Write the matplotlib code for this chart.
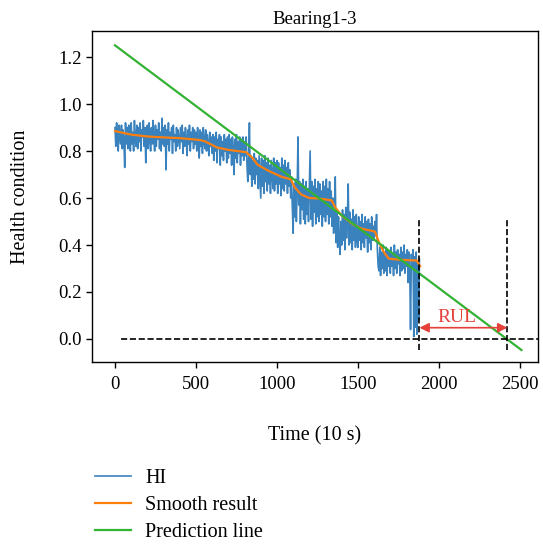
import matplotlib
matplotlib.use("Agg")
import matplotlib.pyplot as plt
import numpy as np

plt.rcParams['font.family'] = ['Liberation Serif', 'DejaVu Serif']

# ---- data ----
hi_step = 5
hi_values = [
    .90, .82, .92, .85, .80, .91, .86, .83, .91, .81, .89, .84, .73, .92, .83, .90, .81, .91, .86, .80,
    .92, .83, .88, .80, .93, .85, .82, .91, .81, .90, .84, .92, .80, .89, .86, .93, .82, .90, .75, .87,
    .91, .81, .92, .85, .80, .90, .83, .93, .84, .80, .91, .82, .89, .85, .92, .81, .88, .80, .94, .83,
    .90, .82, .91, .72, .89, .83, .92, .80, .88, .85, .90, .79, .91, .84, .87, .80, .90, .82, .89, .85,
    .81, .90, .84, .91, .79, .88, .82, .90, .85, .78, .89, .83, .91, .80, .88, .84, .90, .81, .89, .83,
    .88, .80, .90, .83, .77, .89, .82, .88, .79, .90, .84, .81, .89, .80, .87, .83, .78, .88, .82, .86,
    .79, .87, .76, .86, .80, .88, .75, .85, .81, .87, .74, .86, .78, .84, .76, .87, .80, .85, .75, .86,
    .77, .87, .79, .85, .74, .86, .81, .70, .85, .77, .87, .75, .84, .79, .86, .74, .85, .78, .86, .76,
    .84, .78, .86, .74, .67, .77, .92, .70, .78, .65, .76, .68, .79, .66, .77, .70, .76, .64, .78, .69,
    .60, .77, .65, .76, .62, .78, .67, .75, .63, .77, .66, .74, .62, .76, .70, .64, .77, .63, .75, .66,
    .76, .62, .75, .66, .73, .61, .77, .64, .74, .63, .76, .66, .73, .62, .75, .65, .72, .60, .69, .56,
    .45, .66, .52, .68, .50, .64, .86, .57, .67, .49, .66, .55, .68, .51, .65, .49, .67, .53, .64, .50,
    .66, .80, .51, .67, .48, .65, .54, .68, .49, .64, .52, .67, .50, .66, .53, .63, .48, .67, .52, .65,
    .50, .68, .53, .64, .49, .67, .52, .63, .48, .60, .45, .55, .69, .41, .54, .39, .52, .42, .36, .50,
    .40, .55, .42, .53, .38, .56, .43, .52, .66, .40, .54, .41, .51, .38, .55, .42, .52, .39, .53, .43,
    .39, .52, .42, .50, .38, .53, .41, .49, .39, .52, .43, .50, .37, .51, .41, .49, .38, .52, .42, .48,
    .42, .50, .44, .53, .38, .31, .29, .39, .27, .37, .30, .40, .28, .36, .29, .39, .27, .38, .31, .37,
    .28, .39, .31, .36, .27, .40, .30, .37, .28, .38, .32, .36, .27, .39, .29, .37, .30, .40, .28, .36,
    .31, .38, .24, .37, .29, .04, .36, .30, .38, .01, .35, .05, .37, .02, .33, .08, .34,
]
smooth_x = [0, 100, 200, 300, 400, 525, 560, 630, 700, 810, 850, 880, 950,
            1030, 1085, 1110, 1150, 1200, 1260, 1338, 1360, 1400, 1472, 1520,
            1606, 1630, 1660, 1690, 1760, 1863, 1884]
smooth_y = [0.885, 0.87, 0.862, 0.858, 0.855, 0.847, 0.84, 0.815, 0.805, 0.795,
            0.77, 0.742, 0.715, 0.69, 0.68, 0.645, 0.615, 0.60, 0.598, 0.59,
            0.56, 0.525, 0.487, 0.47, 0.457, 0.41, 0.37, 0.342, 0.337, 0.334,
            0.31]
pred_x = [0, 2510]
pred_y = [1.25, -0.047]
fpt_x = 1880      # prediction start (dashed vertical)
eol_x = 2423      # predicted end of life
x_ticks = [0, 500, 1000, 1500, 2000, 2500]
y_ticks = [0.0, 0.2, 0.4, 0.6, 0.8, 1.0, 1.2]

hi_x = np.arange(len(hi_values)) * hi_step

W, H = 543, 547
fig = plt.figure(figsize=(W / 100, H / 100), dpi=100)
ax = fig.add_axes([92 / W, 1 - 362 / H, (538 - 92) / W, (362 - 31) / H])

blue = '#3a82be'
orange = '#ff7f0e'
green = '#33b233'
red = '#e5403a'

ax.plot(hi_x, hi_values, color=blue, lw=1.2, label='HI')
ax.plot(smooth_x, smooth_y, color=orange, lw=1.6, label='Smooth result')
ax.plot(pred_x, pred_y, color=green, lw=1.6, label='Prediction line')

ax.plot([35, 2620], [0, 0], color='black', ls='--', lw=1.2, clip_on=True)
ax.plot([fpt_x, fpt_x], [-0.045, 0.505], color='black', ls='--', lw=1.2)
ax.plot([eol_x, eol_x], [-0.045, 0.505], color='black', ls='--', lw=1.2)

ax.annotate('', xy=(fpt_x, 0.048), xytext=(eol_x, 0.048),
            arrowprops=dict(arrowstyle='<|-|>', color=red, lw=1.2,
                            mutation_scale=14, shrinkA=0, shrinkB=0))
ax.text((fpt_x + eol_x) / 2 - 40, 0.056, 'RUL', color=red, fontsize=14,
        ha='center', va='bottom')

ax.set_xlim(-142, 2612)
ax.set_ylim(-0.098, 1.311)
ax.set_xticks(x_ticks)
ax.set_yticks(y_ticks)
ax.set_yticklabels([f'{v:.1f}' for v in y_ticks])
ax.tick_params(labelsize=13.5, length=4, width=1, direction='out')
ax.tick_params(axis='x', pad=6)
for s in ax.spines.values():
    s.set_linewidth(1.0)

ax.set_title('Bearing1-3', fontsize=13.5, pad=5)
ax.set_xlabel('Time (10 s)', fontsize=14.5, labelpad=24)
ax.set_ylabel('Health condition', fontsize=14.5, labelpad=20)

handles, labels = ax.get_legend_handles_labels()
fig.legend(handles, labels, loc='upper left', bbox_to_anchor=(95 / W, 1 - 469 / H),
           frameon=False, fontsize=14.5, borderpad=0, borderaxespad=0,
           handlelength=1.8, handletextpad=0.7, labelspacing=0.38)

fig.savefig('out.png', dpi=100)
